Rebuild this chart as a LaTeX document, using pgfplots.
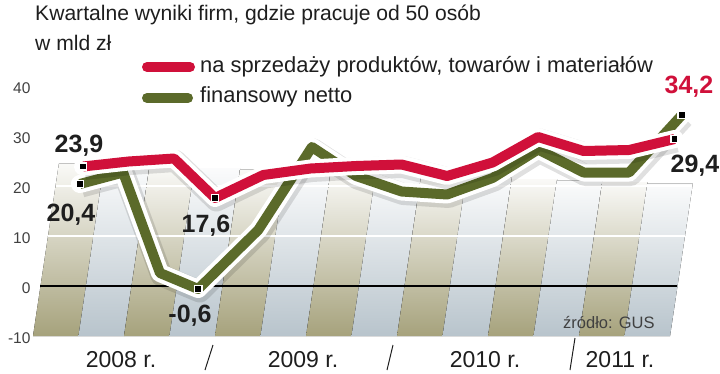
\documentclass[border=0pt]{standalone}
\usepackage{fontspec}
\setmainfont{Liberation Sans}
\usepackage{pgfplots}
\pgfplotsset{compat=1.18}
\definecolor{cred}{HTML}{D0103A}
\definecolor{cgreen}{HTML}{5B6A2A}
\definecolor{colive}{HTML}{A6A27C}
\definecolor{cblue}{HTML}{B8C4CC}
\definecolor{txt}{HTML}{1E1E1E}
\newcommand{\fs}[1]{\fontsize{#1}{#1}\selectfont}
\tikzset{so/.style={top color=colive!6, middle color=colive!62, bottom color=colive},
         sb/.style={top color=cblue!6, middle color=cblue!62, bottom color=cblue}}
\begin{document}
\begin{tikzpicture}[x=1pt,y=1pt]
\path[use as bounding box] (0,0) rectangle (720,373);
\begin{axis}[
  at={(33pt,37pt)}, anchor=south west,
  scale only axis, width=683pt, height=250pt,
  xmin=-1.1, xmax=13.91, ymin=-10, ymax=40,
  axis line style={draw=none},
  xtick=\empty, ytick={-10,0,...,40},
  major tick length=0pt,
  /pgf/number format/assume math mode=true,
  yticklabel style={font=\fs{15.5}, text=txt!85, xshift=1pt, yshift=-2pt},
  clip=false,
]
% background stripes
\fill[so] (axis cs:-1.1,-10) -- (axis cs:-0.1,-10) -- (axis cs:0.47,24.5) -- (axis cs:-0.53,24.5) -- cycle;
\fill[sb] (axis cs:-0.1,-10) -- (axis cs:0.9,-10) -- (axis cs:1.46,24.2) -- (axis cs:0.46,24.2) -- cycle;
\fill[so] (axis cs:0.9,-10) -- (axis cs:1.9,-10) -- (axis cs:2.46,23.9) -- (axis cs:1.46,23.9) -- cycle;
\fill[sb] (axis cs:1.9,-10) -- (axis cs:2.9,-10) -- (axis cs:3.45,23.6) -- (axis cs:2.45,23.6) -- cycle;
\fill[so] (axis cs:2.9,-10) -- (axis cs:3.9,-10) -- (axis cs:4.45,23.3) -- (axis cs:3.45,23.3) -- cycle;
\fill[sb] (axis cs:3.9,-10) -- (axis cs:4.9,-10) -- (axis cs:5.44,23.0) -- (axis cs:4.44,23.0) -- cycle;
\fill[so] (axis cs:4.9,-10) -- (axis cs:5.9,-10) -- (axis cs:6.44,22.7) -- (axis cs:5.44,22.7) -- cycle;
\fill[sb] (axis cs:5.9,-10) -- (axis cs:6.9,-10) -- (axis cs:7.43,22.4) -- (axis cs:6.43,22.4) -- cycle;
\fill[so] (axis cs:6.9,-10) -- (axis cs:7.9,-10) -- (axis cs:8.43,22.0) -- (axis cs:7.43,22.0) -- cycle;
\fill[sb] (axis cs:7.9,-10) -- (axis cs:8.9,-10) -- (axis cs:9.42,21.7) -- (axis cs:8.42,21.7) -- cycle;
\fill[so] (axis cs:8.9,-10) -- (axis cs:9.9,-10) -- (axis cs:10.42,21.4) -- (axis cs:9.42,21.4) -- cycle;
\fill[sb] (axis cs:9.9,-10) -- (axis cs:10.9,-10) -- (axis cs:11.41,21.1) -- (axis cs:10.41,21.1) -- cycle;
\fill[so] (axis cs:10.9,-10) -- (axis cs:11.9,-10) -- (axis cs:12.41,20.8) -- (axis cs:11.41,20.8) -- cycle;
\fill[sb] (axis cs:11.9,-10) -- (axis cs:12.9,-10) -- (axis cs:13.4,20.5) -- (axis cs:12.4,20.5) -- cycle;
% grid lines
\draw[white, line width=1.4pt] (axis cs:-0.77,10) -- (axis cs:13.23,10);
\draw[white, line width=1.4pt] (axis cs:-0.6,20) -- (axis cs:13.38,20);
\draw[black, line width=1.2pt] (axis cs:-0.945,0) -- (axis cs:13.05,0);

% green series (finansowy netto)
\addplot[black, opacity=0.12, line width=22pt, line join=round, xshift=1.5pt, yshift=-2.5pt] coordinates {
(-0.07,20.4) (0.88,22.7) (1.69,2.6) (2.53,-0.6) (3.85,11.2) (5.03,27.8) (6,22.0) (7,18.9) (8,18.3) (9,21.6) (10,27.3) (11,22.7) (12,22.7) (13.16,34.2)};
\addplot[white, line width=18pt, line join=round, line cap=round] coordinates {
(-0.07,20.4) (0.88,22.7) (1.69,2.6) (2.53,-0.6) (3.85,11.2) (5.03,27.8) (6,22.0) (7,18.9) (8,18.3) (9,21.6) (10,27.3) (11,22.7) (12,22.7) (13.16,34.2)};
\addplot[cgreen, line width=10pt, line join=round] coordinates {
(-0.07,20.4) (0.88,22.7) (1.69,2.6) (2.53,-0.6) (3.85,11.2) (5.03,27.8) (6,22.0) (7,18.9) (8,18.3) (9,21.6) (10,27.3) (11,22.7) (12,22.7) (13.16,34.2)};

% red series (na sprzedazy)
\addplot[black, opacity=0.12, line width=22pt, line join=round, xshift=1.5pt, yshift=-2.5pt] coordinates {
(0,23.9) (1,24.9) (2,25.5) (2.9,17.6) (3.96,22.2) (5,23.5) (6,24.0) (7,24.3) (8,22.0) (9,24.7) (10,29.8) (11,27.0) (12,27.2) (13,29.4)};
\addplot[white, line width=18pt, line join=round, line cap=round] coordinates {
(0,23.9) (1,24.9) (2,25.5) (2.9,17.6) (3.96,22.2) (5,23.5) (6,24.0) (7,24.3) (8,22.0) (9,24.7) (10,29.8) (11,27.0) (12,27.2) (13,29.4)};
\addplot[cred, line width=10pt, line join=round] coordinates {
(0,23.9) (1,24.9) (2,25.5) (2.9,17.6) (3.96,22.2) (5,23.5) (6,24.0) (7,24.3) (8,22.0) (9,24.7) (10,29.8) (11,27.0) (12,27.2) (13,29.4)};

% markers
\addplot[only marks, mark=square*, mark size=3.6pt, mark options={fill=black, draw=white, line width=1.6pt}] coordinates {
(0,23.9) (2.9,17.6) (13,29.4) (-0.07,20.4) (2.53,-0.6) (13.16,34.2)};
\end{axis}

% data labels
\node[font=\bfseries\fs{25}, text=txt] at (79,227) {23,9};
\node[font=\bfseries\fs{25}, text=txt] at (71,158) {20,4};
\node[font=\bfseries\fs{25}, text=txt] at (206,147) {17,6};
\node[font=\bfseries\fs{25}, text=txt] at (190,57) {-0,6};
\node[font=\bfseries\fs{25}, text=cred] at (689,286) {34,2};
\node[font=\bfseries\fs{25}, text=txt] at (695,207) {29,4};

% title
\node[anchor=base west, font=\fs{21.1}, text=txt, inner sep=0pt] at (35,352) {Kwartalne wyniki firm, gdzie pracuje od 50 osób};
\node[anchor=base west, font=\fs{21.1}, text=txt, inner sep=0pt] at (35,322) {w mld zł};

% legend
\draw[cred, line width=10pt, line cap=round] (147,306) -- (190,306);
\node[anchor=base west, font=\fs{21.9}, text=txt, inner sep=0pt] at (200,301) {na sprzedaży produktów, towarów i materiałów};
\draw[cgreen, line width=10pt, line cap=round] (147,275) -- (188,275);
\node[anchor=base west, font=\fs{21.9}, text=txt, inner sep=0pt] at (200,270) {finansowy netto};

% source
\node[anchor=base west, font=\fs{16.5}, text=txt!85, inner sep=0pt] at (563,45) {źródło: GUS};

% year labels
\node[anchor=base, font=\fs{23}, text=txt, inner sep=0pt] at (121,6) {2008 r.};
\node[anchor=base, font=\fs{23}, text=txt, inner sep=0pt] at (303,6) {2009 r.};
\node[anchor=base, font=\fs{23}, text=txt, inner sep=0pt] at (485,6) {2010 r.};
\node[anchor=base, font=\fs{23}, text=txt, inner sep=0pt] at (620,6) {2011 r.};
\draw[txt, line width=1pt] (213,28) -- (205,3);
\draw[txt, line width=1pt] (393,28) -- (387,3);
\draw[txt, line width=1pt] (575,35) -- (570,3);
\end{tikzpicture}
\end{document}
